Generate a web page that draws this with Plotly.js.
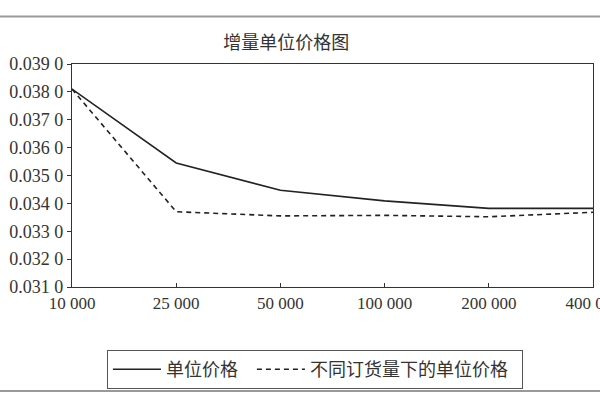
<!DOCTYPE html>
<html>
<head>
<meta charset="utf-8">
<script src="https://cdn.plot.ly/plotly-3.0.1.min.js"></script>
<style>html,body{margin:0;padding:0;background:#fff;}#chart{width:600px;height:400px;}</style>
</head>
<body>
<div id="chart"></div>
<script>
const categories = ["10 000", "25 000", "50 000", "100 000", "200 000", "400 000"];
const unitPrice = [0.0381, 0.03545, 0.03447, 0.03409, 0.03382, 0.03382];
const unitPriceByOrder = [0.0381, 0.0337, 0.03355, 0.03357, 0.03352, 0.03368];
const seriesNames = ["单位价格", "不同订货量下的单位价格"];
const yTickVals = [0.031, 0.032, 0.033, 0.034, 0.035, 0.036, 0.037, 0.038, 0.039];
const yTickText = ["0.031 0", "0.032 0", "0.033 0", "0.034 0", "0.035 0", "0.036 0", "0.037 0", "0.038 0", "0.039 0"];
const titleText = "增量单位价格图";

const FONT = "Liberation Serif, Noto Sans CJK SC, serif";
const CJK = "Noto Sans CJK SC, sans-serif";
const PAD = "\u2002";

const traces = [
  {x: categories, y: unitPrice, name: seriesNames[0] + PAD, type: "scatter", mode: "lines",
   line: {color: "#222", width: 1.6}},
  {x: categories, y: unitPriceByOrder, name: seriesNames[1] + PAD, type: "scatter", mode: "lines",
   line: {color: "#222", width: 1.6, dash: "5px,4px"}}
];

const layout = {
  width: 600, height: 400,
  margin: {l: 72, r: 7, t: 64, b: 113},
  paper_bgcolor: "#fff", plot_bgcolor: "#fff",
  font: {family: FONT, color: "#333", size: 18},
  title: {text: titleText, xref: "container", x: 0.372, xanchor: "left", y: 0.8925, yanchor: "middle",
          font: {family: CJK, size: 18, color: "#333"}},
  showlegend: true,
  legend: {orientation: "h", x: 0.067, xanchor: "left", y: -0.283, yanchor: "top",
           bordercolor: "#555", borderwidth: 1, bgcolor: "#fff",
           font: {family: CJK, size: 18, color: "#333"},
           itemwidth: 48, traceorder: "normal"},
  xaxis: {type: "category", range: [0, 5], showgrid: false, zeroline: false,
          showline: true, linecolor: "#333", linewidth: 1.2, mirror: true,
          ticks: "inside", ticklen: 4, tickcolor: "#333",
          tickfont: {family: FONT, size: 17, color: "#333"}, fixedrange: true},
  yaxis: {range: [0.031, 0.039], tickvals: yTickVals, ticktext: yTickText,
          showgrid: false, zeroline: false,
          showline: true, linecolor: "#333", linewidth: 1.2, mirror: true,
          ticks: "outside", ticklen: 4, tickcolor: "#333",
          tickfont: {family: FONT, size: 18, color: "#333"}, fixedrange: true},
  shapes: [
    {type: "line", xref: "paper", yref: "paper", x0: -0.2, x1: 1.1, y0: 1.213, y1: 1.213,
     line: {color: "#999", width: 2}},
    {type: "line", xref: "paper", yref: "paper", x0: -0.2, x1: 1.1, y0: -0.466, y1: -0.466,
     line: {color: "#999", width: 2}}
  ]
};

Plotly.newPlot("chart", traces, layout, {displayModeBar: false, staticPlot: true});
</script>
</body>
</html>
